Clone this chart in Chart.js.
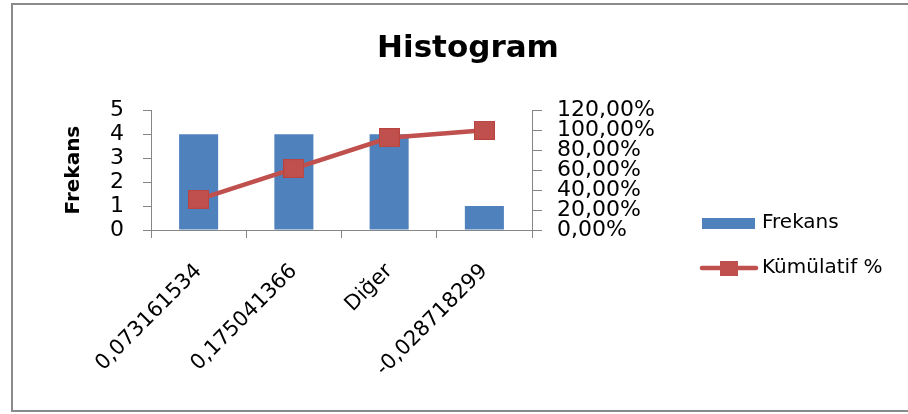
<!DOCTYPE html>
<html>
<head>
<meta charset="utf-8">
<script src="https://cdn.jsdelivr.net/npm/chart.js@4.4.1/dist/chart.umd.min.js"></script>
<style>
  html, body { margin: 0; padding: 0; background: #ffffff; }
  #wrap { position: relative; width: 908px; height: 414px; }
</style>
</head>
<body>
<div id="wrap"><canvas id="c" width="908" height="414"></canvas></div>
<script>
// Histogram bins and their counts
const categories = ['0,073161534', '0,175041366', 'Diğer', '-0,028718299'];
const frekans = [4, 4, 4, 1];
// Cumulative share of observations, in percent
const kumulatif = [30.77, 61.54, 92.31, 100.00];
// Axis ticks
const freqTicks = [0, 1, 2, 3, 4, 5];
const pctTicks = [0, 20, 40, 60, 80, 100, 120];

const BLUE = '#4F81BD';
const RED = '#C0504D';
const AXIS = '#868686';
const FONT = "'DejaVu Sans', 'Noto Sans', sans-serif";

// Square marker used on the cumulative line
function makeMarker(w, h) {
  const m = document.createElement('canvas');
  m.width = w; m.height = h;
  const g = m.getContext('2d');
  g.fillStyle = RED;
  g.fillRect(0, 0, w, h);
  g.strokeStyle = '#b8433f';
  g.lineWidth = 1;
  g.strokeRect(0.5, 0.5, w - 1, h - 1);
  return m;
}
const marker = makeMarker(21, 19);

// Outer frame of the chart object
const framePlugin = {
  id: 'frame',
  beforeDraw(chart) {
    const ctx = chart.ctx;
    ctx.save();
    ctx.fillStyle = '#ffffff';
    ctx.fillRect(0, 0, chart.width, chart.height);
    ctx.strokeStyle = '#8a8a8a';
    ctx.lineWidth = 2;
    ctx.strokeRect(12, 4, 1000, 407);
    ctx.restore();
  }
};

// Legend on the right: a bar swatch and a line-with-marker swatch
const legendPlugin = {
  id: 'sideLegend',
  afterDraw(chart) {
    const ctx = chart.ctx;
    const ds = chart.data.datasets;
    ctx.save();
    ctx.font = "20px " + FONT;
    ctx.textBaseline = 'middle';
    ctx.textAlign = 'left';
    // bar entry
    ctx.fillStyle = ds[1].backgroundColor;
    ctx.fillRect(702, 218, 53, 11);
    ctx.fillStyle = '#000000';
    ctx.fillText(ds[1].label, 762, 223);
    // line entry
    ctx.strokeStyle = ds[0].borderColor;
    ctx.lineWidth = 4.5;
    ctx.lineCap = 'round';
    ctx.beginPath();
    ctx.moveTo(702, 268);
    ctx.lineTo(756, 268);
    ctx.stroke();
    ctx.fillStyle = ds[0].borderColor;
    ctx.fillRect(720, 261, 18, 15);
    ctx.fillStyle = '#000000';
    ctx.fillText(ds[0].label, 762, 268);
    ctx.restore();
  }
};

new Chart(document.getElementById('c'), {
  data: {
    labels: categories,
    datasets: [
      {
        type: 'line',
        label: 'Kümülatif %',
        data: kumulatif,
        yAxisID: 'y1',
        borderColor: RED,
        backgroundColor: RED,
        borderWidth: 4.5,
        pointStyle: marker,
        pointRadius: 10,
        pointHoverRadius: 10,
        tension: 0,
        order: 0
      },
      {
        type: 'bar',
        label: 'Frekans',
        data: frekans,
        yAxisID: 'y',
        backgroundColor: BLUE,
        borderWidth: 0,
        categoryPercentage: 1.0,
        barPercentage: 0.41,
        order: 1
      }
    ]
  },
  options: {
    responsive: false,
    animation: false,
    devicePixelRatio: 1,
    layout: { padding: { left: 28, right: 0, top: 0, bottom: 0 } },
    plugins: {
      legend: { display: false },
      tooltip: { enabled: false },
      title: {
        display: true,
        text: 'Histogram',
        color: '#000000',
        font: { family: FONT, weight: 'bold', size: 31 },
        padding: { top: 30, bottom: 43 }
      }
    },
    scales: {
      x: {
        offset: true,
        grid: { display: true, drawOnChartArea: false, drawTicks: true, tickLength: 8, color: AXIS, offset: true },
        border: { display: true, color: AXIS, width: 1 },
        ticks: {
          color: '#000000',
          font: { family: FONT, size: 21 },
          minRotation: 45,
          maxRotation: 45,
          padding: 21,
          autoSkip: false
        },
        afterFit(scale) { scale.height = 184; }
      },
      y: {
        position: 'left',
        min: freqTicks[0],
        max: freqTicks[freqTicks.length - 1],
        afterBuildTicks(scale) { scale.ticks = freqTicks.map(v => ({ value: v })); },
        grid: { display: true, drawOnChartArea: false, drawTicks: true, tickLength: 8, color: AXIS },
        border: { display: true, color: AXIS, width: 1 },
        ticks: {
          color: '#000000',
          font: { family: FONT, size: 22 },
          padding: 19,
          autoSkip: false
        },
        title: {
          display: true,
          text: 'Frekans',
          color: '#000000',
          font: { family: FONT, weight: 'bold', size: 20 },
          padding: { top: 34, bottom: 0 }
        },
        afterFit(scale) { scale.width = 123; }
      },
      y1: {
        position: 'right',
        min: pctTicks[0],
        max: pctTicks[pctTicks.length - 1],
        afterBuildTicks(scale) { scale.ticks = pctTicks.map(v => ({ value: v })); },
        grid: { display: true, drawOnChartArea: false, drawTicks: true, tickLength: 10, color: AXIS },
        border: { display: true, color: AXIS, width: 1 },
        ticks: {
          color: '#000000',
          font: { family: FONT, size: 22 },
          padding: 15,
          autoSkip: false,
          callback: v => v.toFixed(2).replace('.', ',') + '%'
        },
        afterFit(scale) { scale.width = 376; }
      }
    }
  },
  plugins: [framePlugin, legendPlugin]
});
</script>
</body>
</html>
